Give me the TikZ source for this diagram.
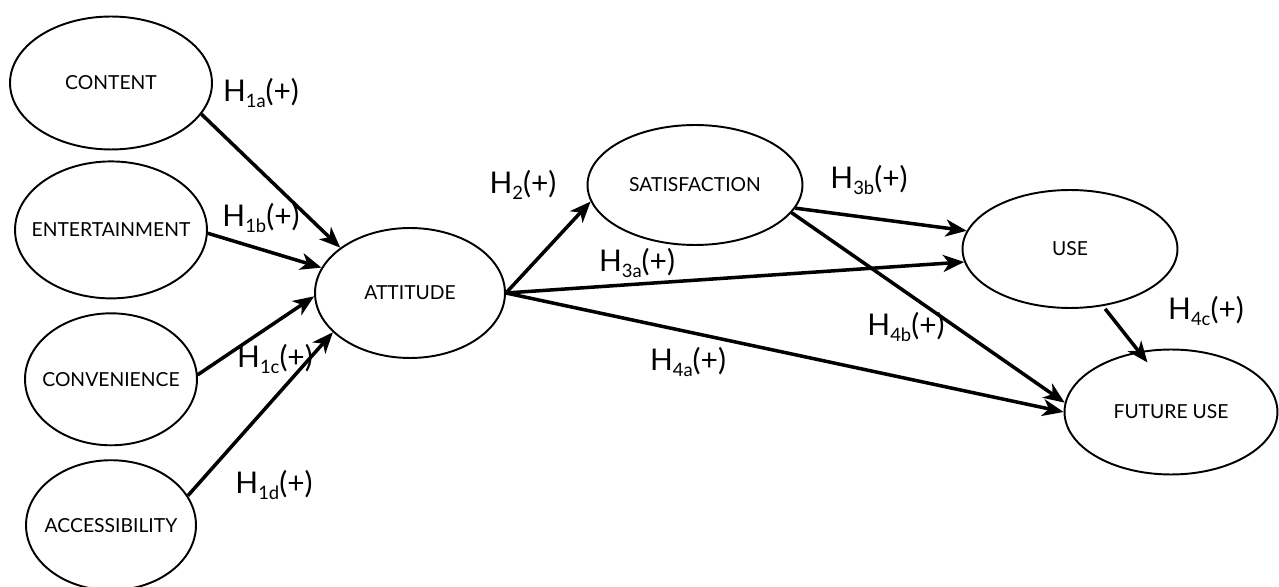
\documentclass[tikz,border=0pt]{standalone}
\usepackage{fontspec}
\setmainfont{Lato}
\usetikzlibrary{arrows.meta,positioning,shapes.geometric}
\newcommand\hsub[1]{\raisebox{-0.22em}{\fontsize{10.5pt}{10.5pt}\selectfont#1}}

\begin{document}
\begin{tikzpicture}[
x=0.02cm,y=-0.02cm,
node distance=2.6mm,
cons/.style={ellipse,draw,line width=1.1pt,inner xsep=-7pt,inner ysep=0pt,align=center,
font=\fontsize{11pt}{12pt}\selectfont},
hyp/.style={inner sep=0pt,font=\fontsize{17pt}{19pt}\selectfont},
arr/.style={-{Stealth[length=4.2mm,width=3.4mm,inset=1.2mm]},line width=2pt}
]
\useasboundingbox (0,0) rectangle (1279,587);

% antecedents
\node[cons,minimum width=4.04cm,minimum height=2.66cm] (content) at (111,83) {CONTENT};
\node[cons,minimum width=3.84cm,minimum height=2.74cm,below=2mm of content] (ent) {ENTERTAINMENT};
\node[cons,minimum width=3.44cm,minimum height=2.64cm,below=of ent] (conv) {CONVENIENCE};
\node[cons,minimum width=3.4cm,minimum height=2.6cm,below=of conv] (acc) {ACCESSIBILITY};

% mediators and outcomes
\node[cons,minimum width=3.8cm,minimum height=2.6cm] (attitude) at (410,293) {ATTITUDE};
\node[cons,minimum width=4.3cm,minimum height=2.4cm] (sat) at (695,185) {SATISFACTION};
\node[cons,minimum width=4.3cm,minimum height=2.36cm] (use) at (1070,249) {USE};
\node[cons,minimum width=4.26cm,minimum height=2.5cm] (fut) at (1171,412) {FUTURE USE};

\draw[arr] (content.-19) -- (attitude.147);
\draw[arr] (ent.-2) -- (attitude.164);
\draw[arr] (conv.3) -- (attitude.182);
\draw[arr] (acc.21) -- (attitude.207);
\draw[arr] (attitude.east) -- (sat.189);
\draw[arr] (attitude.east) -- (use.187);
\draw[arr] (attitude.east) -- (fut.west);
\draw[arr] (sat.-13) -- (use.170);
\draw[arr] (sat.-16) -- (fut.175);
\draw[arr,shorten <=2pt,shorten >=-8pt] (use.-60) -- (fut.118);

% hypothesis labels
\node[hyp] (h1a) at (261,93) {H\hsub{1a}(+)};
\node[hyp] (h1b) at (261,218) {H\hsub{1b}(+)};
\node[hyp] (h1c) at (275,359) {H\hsub{1c}(+)};
\node[hyp] (h1d) at (274,485) {H\hsub{1d}(+)};
\node[hyp] (h2) at (523,185) {H\hsub{2}(+)};
\node[hyp] (h3a) at (637,263) {H\hsub{3a}(+)};
\node[hyp] (h3b) at (869,180) {H\hsub{3b}(+)};
\node[hyp] (h4a) at (688,362) {H\hsub{4a}(+)};
\node[hyp] (h4b) at (906,327) {H\hsub{4b}(+)};
\node[hyp] (h4c) at (1206,311) {H\hsub{4c}(+)};
\end{tikzpicture}
\end{document}
